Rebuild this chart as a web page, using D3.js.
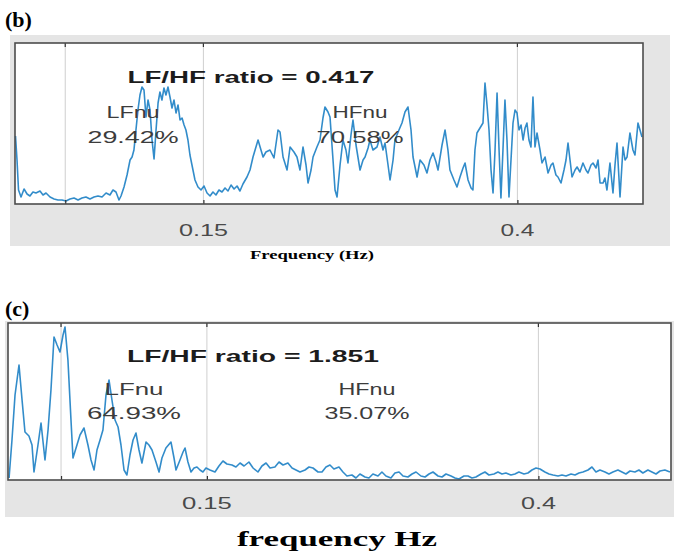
<!DOCTYPE html>
<html>
<head>
<meta charset="utf-8">
<script src="https://cdn.jsdelivr.net/npm/d3@7"></script>
<style>
  body { margin: 0; background: #fff; }
  svg { display: block; }
</style>
</head>
<body>
<svg id="chart" width="674" height="555"></svg>
<script>
// ---- Spectrum (b): frequency (Hz) and power (a.u.) ----
const freqB = [0.0004,0.0016,0.0028,0.0048,0.0072,0.0096,0.0119,0.0143,0.0167,0.0199,0.0223,0.0247,0.0279,0.0311,0.0342,0.0374,0.0406,0.0438,0.0470,0.0502,
  0.0533,0.0565,0.0597,0.0629,0.0661,0.0693,0.0725,0.0756,0.0780,0.0804,0.0828,0.0844,0.0868,0.0892,0.0916,0.0932,0.0947,0.0963,0.0979,0.0995,
  0.1011,0.1027,0.1043,0.1059,0.1075,0.1091,0.1107,0.1123,0.1139,0.1154,0.1170,0.1186,0.1202,0.1218,0.1234,0.1250,0.1266,0.1282,0.1298,0.1314,
  0.1330,0.1346,0.1361,0.1377,0.1393,0.1409,0.1433,0.1457,0.1481,0.1505,0.1529,0.1553,0.1576,0.1600,0.1624,0.1648,0.1672,0.1696,0.1720,0.1744,
  0.1768,0.1791,0.1815,0.1847,0.1871,0.1895,0.1935,0.1975,0.1998,0.2030,0.2062,0.2094,0.2110,0.2134,0.2166,0.2190,0.2221,0.2245,0.2269,0.2293,
  0.2317,0.2333,0.2357,0.2373,0.2404,0.2428,0.2452,0.2468,0.2492,0.2508,0.2532,0.2548,0.2564,0.2588,0.2611,0.2635,0.2651,0.2675,0.2691,0.2715,
  0.2747,0.2771,0.2787,0.2811,0.2826,0.2850,0.2882,0.2906,0.2930,0.2946,0.2970,0.2986,0.3010,0.3025,0.3057,0.3081,0.3105,0.3129,0.3153,0.3169,
  0.3201,0.3225,0.3256,0.3280,0.3304,0.3328,0.3352,0.3368,0.3400,0.3424,0.3447,0.3463,0.3495,0.3519,0.3543,0.3567,0.3583,0.3607,0.3631,0.3646,
  0.3662,0.3678,0.3702,0.3726,0.3742,0.3758,0.3774,0.3790,0.3806,0.3822,0.3838,0.3854,0.3869,0.3885,0.3901,0.3917,0.3933,0.3949,0.3965,0.3981,
  0.3997,0.4013,0.4029,0.4045,0.4061,0.4076,0.4092,0.4108,0.4124,0.4140,0.4156,0.4180,0.4196,0.4220,0.4244,0.4268,0.4283,0.4307,0.4323,0.4347,
  0.4371,0.4387,0.4403,0.4419,0.4435,0.4459,0.4475,0.4498,0.4522,0.4546,0.4562,0.4586,0.4602,0.4626,0.4642,0.4658,0.4682,0.4697,0.4713,0.4737,
  0.4761,0.4777,0.4793,0.4817,0.4841,0.4857,0.4873,0.4896,0.4920,0.4936,0.4960,0.4976,0.4992];
const psdB = [68,44,14,7,15,10,8,12,11,13,9,11,7,5,4,4,3,5,6,4,
  6,7,5,7,8,7,11,9,14,12,4,8,17,29,44,47,54,74,94,109,
  117,114,87,104,94,64,45,74,101,112,104,116,109,117,107,96,104,91,99,84,
  86,79,74,64,49,39,24,17,14,18,11,8,12,9,14,12,16,13,19,15,
  18,13,20,27,34,47,64,47,52,54,46,74,72,47,34,57,52,47,34,57,
  39,21,34,47,57,64,86,97,92,87,44,14,7,39,64,54,41,69,84,59,
  34,44,47,56,64,54,57,67,54,61,39,24,44,64,74,81,92,97,74,47,
  27,44,39,31,44,51,42,34,59,74,54,34,24,17,27,36,41,24,16,14,
  54,71,76,81,121,99,74,34,11,54,111,54,6,54,104,64,7,44,81,94,
  91,74,79,64,76,81,64,57,107,57,71,54,41,47,31,39,41,29,27,21,
  34,44,61,44,27,34,37,32,41,34,31,39,41,36,44,21,21,26,14,41,
  11,39,61,7,57,44,47,71,54,49,81,74,67];

// ---- Spectrum (c): frequency (Hz) and power (a.u.) ----
const freqC = [0.0008,0.0030,0.0053,0.0083,0.0106,0.0128,0.0158,0.0181,0.0196,0.0226,0.0249,0.0279,0.0302,0.0324,0.0347,0.0370,0.0392,0.0415,0.0430,0.0452,
  0.0475,0.0490,0.0520,0.0543,0.0573,0.0603,0.0626,0.0649,0.0671,0.0694,0.0716,0.0739,0.0762,0.0784,0.0807,0.0830,0.0852,0.0875,0.0897,0.0920,
  0.0943,0.0965,0.0988,0.1010,0.1041,0.1063,0.1086,0.1116,0.1139,0.1161,0.1191,0.1229,0.1252,0.1267,0.1297,0.1320,0.1335,0.1357,0.1380,0.1403,
  0.1425,0.1448,0.1470,0.1493,0.1523,0.1561,0.1591,0.1621,0.1651,0.1689,0.1719,0.1750,0.1780,0.1817,0.1848,0.1885,0.1915,0.1946,0.1976,0.2013,
  0.2044,0.2074,0.2111,0.2142,0.2172,0.2202,0.2240,0.2270,0.2300,0.2338,0.2368,0.2398,0.2428,0.2458,0.2496,0.2526,0.2556,0.2594,0.2624,0.2654,
  0.2692,0.2722,0.2752,0.2790,0.2820,0.2850,0.2888,0.2918,0.2949,0.2979,0.3016,0.3047,0.3077,0.3114,0.3145,0.3175,0.3205,0.3243,0.3273,0.3303,
  0.3341,0.3371,0.3401,0.3439,0.3469,0.3499,0.3529,0.3567,0.3597,0.3627,0.3665,0.3695,0.3725,0.3755,0.3793,0.3823,0.3853,0.3891,0.3921,0.3951,
  0.3982,0.4012,0.4049,0.4080,0.4110,0.4148,0.4178,0.4208,0.4246,0.4276,0.4306,0.4336,0.4374,0.4404,0.4434,0.4464,0.4502,0.4532,0.4562,0.4600,
  0.4630,0.4660,0.4691,0.4728,0.4758,0.4788,0.4826,0.4856,0.4887,0.4917,0.4954,0.4992];
const psdC = [2,40,85,115,80,48,44,35,8,35,57,20,50,90,143,135,128,145,153,120,
  60,22,35,45,52,35,20,10,30,40,50,85,100,80,60,53,35,10,5,25,
  40,47,30,17,38,35,30,18,8,22,32,38,22,10,20,28,32,18,8,12,
  13,10,8,12,10,8,14,19,16,15,13,17,14,18,12,8,14,17,12,13,
  18,15,17,12,10,8,10,13,12,8,8,13,15,11,13,8,4,5,2,6,
  3,2,6,4,8,4,2,7,8,4,3,6,8,4,3,6,8,4,3,6,
  4,2,1,4,4,2,3,6,8,5,6,8,6,7,5,6,8,6,7,10,
  12,11,8,6,5,4,5,4,6,5,7,8,10,13,8,10,8,6,8,10,
  8,6,9,8,10,7,10,8,6,9,10,8];

// ---- Axis ticks and band annotations ----
const gridFreqs = [0.04, 0.15, 0.4];
const tickFreqs = [0.15, 0.4];
const tickLabels = ["0.15", "0.4"];
const panelTags = ["(b)", "(c)"];
const ratioTexts = ["LF/HF ratio = 0.417", "LF/HF ratio = 1.851"];
const lfTexts = ["29.42%", "64.93%"];
const hfTexts = ["70.58%", "35.07%"];
const xTitles = ["Frequency (Hz)", "frequency Hz"];

// ---- Layout of each panel ----
const layouts = [
  { tag: [5, 27], frame: [10, 35, 670, 246], box: [15, 43, 643, 204], yMax: 161,
    ratio: [251, 83, 247], lfName: [133, 118, 53], lfPct: [133, 143, 91],
    hfName: [360, 118, 55], hfPct: [360, 143, 87], tickY: 236, tickW: [49, 34],
    xTitle: [312, 259, 124, 11.5] },
  { tag: [5, 316], frame: [5, 321, 674, 517], box: [8, 323, 671, 480], yMax: 157,
    ratio: [253, 362, 252], lfName: [134, 395, 59], lfPct: [134, 419, 94],
    hfName: [367, 395, 57], hfPct: [367, 419, 85], tickY: 509, tickW: [50, 35],
    xTitle: [337, 546, 200, 22] }
];
const series = [
  { freq: freqB, psd: psdB },
  { freq: freqC, psd: psdC }
];

const svg = d3.select("#chart");
const sans = "'Liberation Sans', Arial, Helvetica, sans-serif";
const serif = "'Liberation Serif', 'Times New Roman', serif";

function fitText(g, str, x, y, width, size, opts) {
  return g.append("text")
    .attr("x", x - width / 2).attr("y", y)
    .attr("textLength", width).attr("lengthAdjust", "spacingAndGlyphs")
    .attr("font-family", opts.family).attr("font-size", size)
    .attr("font-weight", opts.weight || "normal")
    .attr("fill", opts.fill || "#222")
    .text(str);
}

layouts.forEach((L, i) => {
  const g = svg.append("g");
  const [fx0, fy0, fx1, fy1] = L.frame;
  const [bx0, by0, bx1, by1] = L.box;

  // figure background behind the axes
  g.append("rect").attr("x", fx0).attr("y", fy0)
    .attr("width", fx1 - fx0).attr("height", fy1 - fy0).attr("fill", "#e5e5e5");

  const x = d3.scaleLinear().domain([0, 0.5]).range([bx0, bx1]);
  const y = d3.scaleLinear().domain([0, L.yMax]).range([by1, by0]);

  // axes area
  g.append("rect").attr("x", bx0).attr("y", by0)
    .attr("width", bx1 - bx0).attr("height", by1 - by0).attr("fill", "#fff");

  // vertical band boundaries
  g.selectAll("line.grid").data(gridFreqs).join("line")
    .attr("class", "grid")
    .attr("x1", d => x(d)).attr("x2", d => x(d))
    .attr("y1", by0).attr("y2", by1)
    .attr("stroke", "#cfcfcf").attr("stroke-width", 1);

  // spectrum trace
  const s = series[i];
  const pts = s.freq.map((f, k) => [f, s.psd[k]]);
  const line = d3.line().x(d => x(d[0])).y(d => y(d[1]));
  g.append("path").datum(pts)
    .attr("d", line)
    .attr("fill", "none")
    .attr("stroke", "#2182c6")
    .attr("stroke-width", 1.6)
    .attr("stroke-linejoin", "round")
    .attr("opacity", 0.92);

  // bottom axis: inward tick marks
  const axis = d3.axisBottom(x).tickValues(gridFreqs)
    .tickSizeInner(-4).tickSizeOuter(0).tickFormat("");
  const ax = g.append("g").attr("transform", `translate(0,${by1})`).call(axis);
  ax.select(".domain").remove();
  ax.selectAll(".tick line").attr("stroke", "#333").attr("stroke-width", 1.2);

  // tick labels
  tickFreqs.forEach((f, k) => {
    fitText(g, tickLabels[k], x(f), L.tickY, L.tickW[k], 17, { family: sans, fill: "#4a4a4a" });
  });

  // top inward ticks
  g.selectAll("line.ttick").data(gridFreqs).join("line")
    .attr("class", "ttick")
    .attr("x1", d => x(d)).attr("x2", d => x(d))
    .attr("y1", by0).attr("y2", by0 + 4)
    .attr("stroke", "#333").attr("stroke-width", 1.2);

  // axes box
  g.append("rect").attr("x", bx0).attr("y", by0)
    .attr("width", bx1 - bx0).attr("height", by1 - by0)
    .attr("fill", "none").attr("stroke", "#4d4d4d").attr("stroke-width", 1.6);

  // annotations
  fitText(g, ratioTexts[i], L.ratio[0], L.ratio[1], L.ratio[2], 17, { family: sans, weight: "bold", fill: "#1c1c1c" });
  fitText(g, "LFnu", L.lfName[0], L.lfName[1], L.lfName[2], 17, { family: sans, fill: "#3c3c3c" });
  fitText(g, lfTexts[i], L.lfPct[0], L.lfPct[1], L.lfPct[2], 17, { family: sans, fill: "#3c3c3c" });
  fitText(g, "HFnu", L.hfName[0], L.hfName[1], L.hfName[2], 17, { family: sans, fill: "#3c3c3c" });
  fitText(g, hfTexts[i], L.hfPct[0], L.hfPct[1], L.hfPct[2], 17, { family: sans, fill: "#3c3c3c" });

  // panel tag and x-axis title
  g.append("text").attr("x", L.tag[0]).attr("y", L.tag[1])
    .attr("font-family", serif).attr("font-weight", "bold").attr("font-size", 22)
    .attr("fill", "#000").text(panelTags[i]);
  fitText(g, xTitles[i], L.xTitle[0], L.xTitle[1], L.xTitle[2], L.xTitle[3], { family: serif, weight: "bold", fill: "#000" });
});
</script>
</body>
</html>
